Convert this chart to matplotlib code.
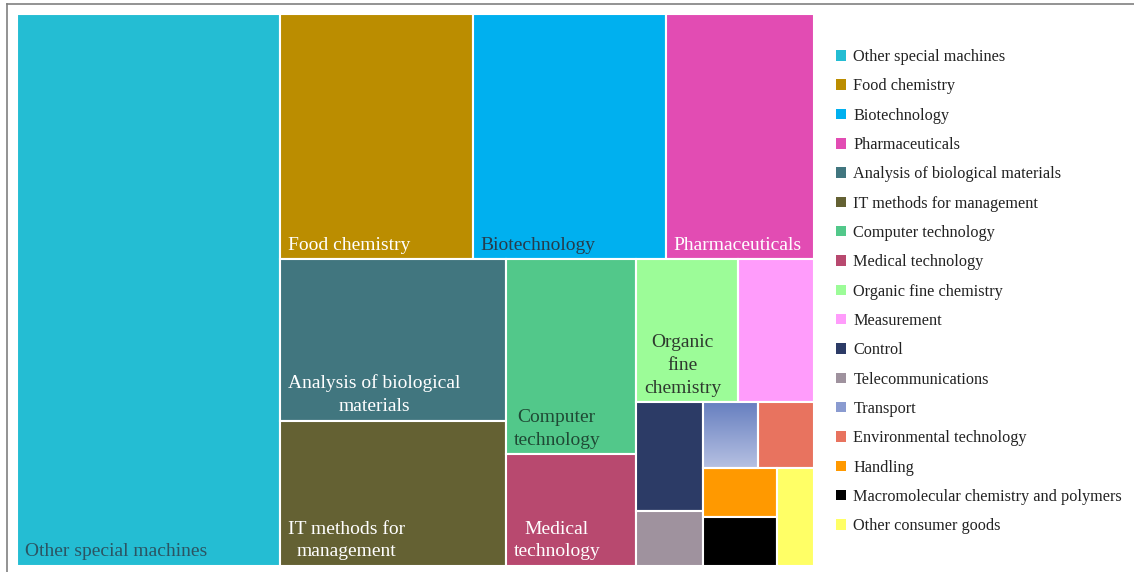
import matplotlib.pyplot as plt
from matplotlib.patches import Rectangle, Patch
from matplotlib.lines import Line2D
from matplotlib.colors import LinearSegmentedColormap
import numpy as np

categories = ["Other special machines", "Food chemistry", "Biotechnology", "Pharmaceuticals",
              "Analysis of biological materials", "IT methods for management", "Computer technology",
              "Medical technology", "Organic fine chemistry", "Measurement", "Control",
              "Telecommunications", "Transport", "Environmental technology", "Handling",
              "Macromolecular chemistry and polymers", "Other consumer goods"]
counts = [40, 13, 13, 10, 10, 9, 7, 4, 4, 3, 2, 1, 1, 1, 1, 1, 1]
colors = ["#24BDD3", "#BB8D00", "#00B0EF", "#E24CB3", "#41767F", "#646133", "#52C88A",
          "#B8496F", "#9CFC98", "#FF9CFB", "#2C3B66", "#9F929E", "#8A9BD0", "#E8735F",
          "#FF9900", "#000000", "#FFFF66"]
# text shown inside the boxes (Excel wraps them like this; small boxes get none)
box_labels = ["Other special machines", "Food chemistry", "Biotechnology", "Pharmaceuticals",
              "Analysis of biological\nmaterials", "IT methods for\nmanagement", "Computer\ntechnology",
              "Medical\ntechnology", "Organic\nfine\nchemistry", "", "", "", "", "", "", "", ""]
label_colors = ["#2B5563", "white", "#263C4C", "white", "white", "white", "#1F4A35",
                "white", "#2E3A2E", "white", "white", "white", "white", "white", "white", "white", "white"]

plt.rcParams['font.family'] = ['Liberation Serif', 'DejaVu Serif']

fig = plt.figure(figsize=(11.34, 5.72), dpi=100)
ax = fig.add_axes([17 / 1134, 6 / 572, 797 / 1134, 552 / 572])
W, H = 797.0, 552.0  # axes box size in pixels, so aspect ratios are true


def worst(areas, side):
    t = sum(areas) / side
    return max(max(t / (a / t), (a / t) / t) for a in areas)


def squarify(areas, x, y, w, h, slack=1.15):
    # squarified layout; slack lets a strip grow a little past the optimum like Excel does
    rects = []
    areas = list(areas)
    while areas:
        if len(areas) == 1:
            rects.append((x, y, w, h))
            break
        side = min(w, h)
        k = 1
        best = worst(areas[:1], side)
        while k < len(areas):
            cand = worst(areas[:k + 1], side)
            if cand > best * slack:
                break
            best = cand
            k += 1
        strip = areas[:k]
        t = sum(strip) / side
        pos = 0.0
        for a in strip:
            l = a / t
            if w >= h:   # vertical strip on the left
                rects.append((x, y + pos, t, l))
            else:        # horizontal strip on top
                rects.append((x + pos, y, l, t))
            pos += l
        if w >= h:
            x, w = x + t, w - t
        else:
            y, h = y + t, h - t
        areas = areas[k:]
    return rects


scale = W * H / sum(counts)
rects = squarify([c * scale for c in counts], 0, 0, W, H)

transport_cmap = LinearSegmentedColormap.from_list("tr", ["#6780C0", "#B6C0E2"])
for (x, y, w, h), col, lab, lc, name in zip(rects, colors, box_labels, label_colors, categories):
    if name == "Transport":
        grad = np.linspace(0, 1, 64).reshape(-1, 1)
        ax.imshow(grad, extent=(x, x + w, y + h, y), cmap=transport_cmap, aspect='auto', zorder=1)
        ax.add_patch(Rectangle((x, y), w, h, facecolor='none', edgecolor='white', lw=1.5, zorder=2))
    else:
        ax.add_patch(Rectangle((x, y), w, h, facecolor=col, edgecolor='white', lw=1.5, zorder=1))
    if lab:
        ax.annotate(lab, xy=(x, y + h), xytext=(5.5, 4.0), textcoords='offset points',
                    ha='left', va='bottom', multialignment='center', fontsize=14,
                    color=lc, linespacing=1.45, zorder=3)

ax.set_xlim(0, W)
ax.set_ylim(H, 0)
ax.axis('off')

handles = [Patch(facecolor=c, edgecolor='none') for c in colors]
fig.legend(handles, categories, loc='upper left', bbox_to_anchor=(836 / 1134, 1 - 49 / 572),
           frameon=False, fontsize=11.7, handlelength=0.62, handleheight=0.62,
           handletextpad=0.45, labelspacing=0.82, borderpad=0, borderaxespad=0,
           labelcolor='#222222')

# thin outer frame (top and left edges)
fig.add_artist(Line2D([7 / 1134, 1], [1 - 4 / 572, 1 - 4 / 572], color='#808080', lw=1.2))
fig.add_artist(Line2D([7 / 1134, 7 / 1134], [0, 1 - 4 / 572], color='#808080', lw=1.2))

fig.savefig("out.png", dpi=100)
